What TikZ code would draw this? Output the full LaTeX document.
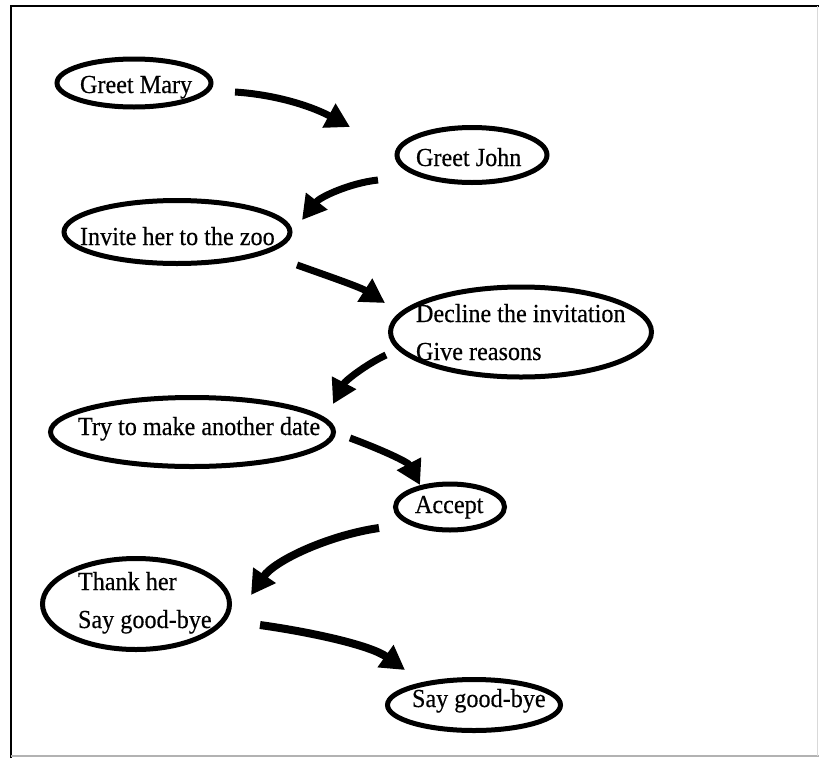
\documentclass[tikz,border=0pt]{standalone}
\usepackage{fontspec}
\setmainfont{Liberation Serif}[FakeStretch=0.93,FakeBold=0.4]
\usetikzlibrary{shapes.geometric,arrows.meta}
% text placed at (left offset, baseline offset) from the ellipse centre, taking no room
\newcommand{\zb}[3]{\smash{\raisebox{-#2}{\makebox[0pt][l]{\hspace*{#1}#3}}}}
\newcommand{\zbb}[4]{\smash{\raisebox{-#2}{\makebox[0pt][l]{\hspace*{#1}\begin{tabular}[b]{@{}l@{}}#3\\#4\end{tabular}}}}}
\begin{document}
\begin{tikzpicture}[x=1pt,y=-1pt,
  bub/.style={ellipse,draw,line width=5pt,inner sep=0pt,
    font=\fontsize{26pt}{38pt}\selectfont},
  arr/.style={line width=7pt,line cap=butt,-{Triangle[length=24pt,width=26pt]}},
  frame/.style={line width=1.8pt}]
\useasboundingbox (0,0) rectangle (819,758);
\draw[frame] (11,758) -- (11,6) -- (819,6);
\draw[frame,black!30] (11,756) -- (819,756);
\draw[line width=1pt,black!15] (817,6) -- (817,756);

\node[bub,minimum width=154,minimum height=48] (mary) at (134,83) {\zb{-54pt}{10pt}{Greet Mary}};
\node[bub,minimum width=150,minimum height=55] (john) at (472,155) {\zb{-56pt}{11pt}{Greet John}};
\node[bub,minimum width=226,minimum height=63] (invite) at (177,232) {\zb{-97pt}{13pt}{Invite her to the zoo}};
\node[bub,minimum width=261,minimum height=90] (decline) at (521,332) {\zbb{-105pt}{28pt}{Decline the invitation}{Give reasons}};
\node[bub,minimum width=283,minimum height=69] (try) at (192,432) {\zb{-114pt}{3pt}{Try to make another date}};
\node[bub,minimum width=109,minimum height=46] (accept) at (450,507) {\zb{-35pt}{6pt}{Accept}};
\node[bub,minimum width=187,minimum height=91] (thank) at (136,604) {\zbb{-58pt}{24pt}{Thank her}{Say good-bye}};
\node[bub,minimum width=173,minimum height=51] (bye) at (474,705) {\zb{-62pt}{2pt}{Say good-bye}};

\draw[arr] ([shift={(101,9)}]mary.center) .. controls +(45,3) and +(-35,-19) .. ([shift={(-122,-28)}]john.center);
\draw[arr] ([shift={(-94,25)}]john.center) .. controls +(-28,3) and +(18,-23) .. ([shift={(125,-12)}]invite.center);
\draw[arr] ([shift={(120,33)}]invite.center) .. controls +(28,10) and +(-25,-16) .. ([shift={(-136,-29)}]decline.center);
\draw[arr] ([shift={(-135,23)}]decline.center) .. controls +(-21,10) and +(12,-23) .. ([shift={(141,-28)}]try.center);
\draw[arr] ([shift={(158,6)}]try.center) .. controls +(30,11) and +(-12,-23) .. ([shift={(-30,-22)}]accept.center);
\draw[arr,line width=8pt] ([shift={(-71,21)}]accept.center) .. controls +(-49,7) and +(24,-35) .. ([shift={(115,-9)}]thank.center);
\draw[arr,line width=8pt] ([shift={(124,21)}]thank.center) .. controls +(50,7) and +(-35,-25) .. ([shift={(-69,-35)}]bye.center);
\end{tikzpicture}
\end{document}
